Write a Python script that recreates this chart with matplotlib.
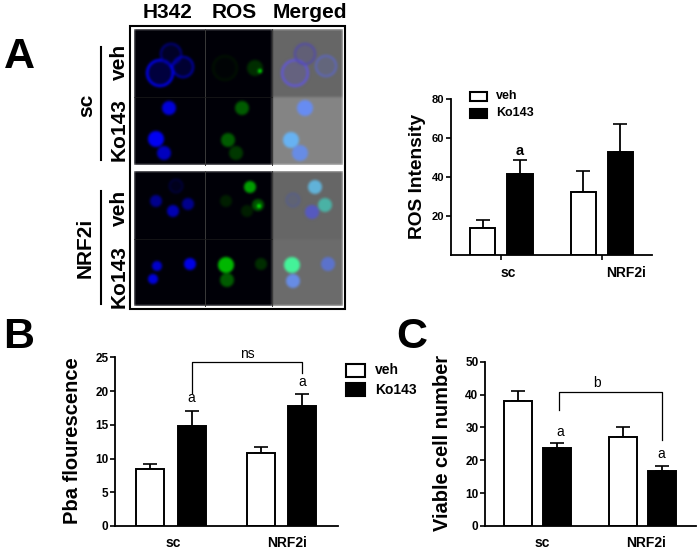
import numpy as np
import matplotlib
matplotlib.use("Agg")
import matplotlib.pyplot as plt
from matplotlib.patches import Rectangle

plt.rcParams['font.family'] = ['Liberation Sans', 'DejaVu Sans']

W, H = 700, 552
groups = ['sc', 'NRF2i']
series = ['veh', 'Ko143']

ros_values = [13.5, 41.5, 32.5, 53.0]
ros_tops = [18.0, 48.5, 43.0, 67.5]
pba_values = [8.4, 14.8, 10.8, 17.8]
pba_tops = [9.2, 17.0, 11.7, 19.6]
via_values = [38.0, 23.8, 27.0, 16.8]
via_tops = [41.0, 25.3, 30.0, 18.2]

# microscopy cells: x, y, radius, blue, green, ring
blue_cells = [
    (160, 73, 14, 1.0, 0, 1), (171, 54, 11, 0.6, 0, 1), (183, 67, 11, 0.8, 0, 1),
    (169, 108, 7, 0.85, 0, 0), (156, 139, 8, 0.95, 0, 0), (164, 153, 7, 0.75, 0, 0),
    (176, 186, 7, 0.42, 0, 1), (156, 201, 6, 0.55, 0, 0), (173, 211, 6, 0.7, 0, 0), (188, 204, 6, 0.55, 0, 0),
    (157, 266, 5, 0.8, 0, 0), (190, 264, 6, 0.9, 0, 0), (153, 279, 5, 0.85, 0, 0),
]
green_cells = [
    (225, 68, 13, 0, 0.07, 1), (255, 68, 8, 0, 0.18, 0), (260, 71, 2, 0, 0.9, 0),
    (242, 108, 7, 0, 0.36, 0), (228, 140, 7, 0, 0.36, 0), (236, 153, 7, 0, 0.22, 0),
    (250, 187, 6, 0, 0.62, 0), (226, 201, 6, 0, 0.12, 0), (247, 211, 6, 0, 0.12, 0),
    (258, 205, 6, 0, 0.32, 0), (259, 206, 2, 0, 0.95, 0),
    (226, 265, 8, 0, 0.72, 0), (261, 264, 6, 0, 0.18, 0), (227, 280, 7, 0, 0.36, 0),
]
merged_cells = [
    (295, 73, 14, 0.85, 0.12, 1), (305, 54, 11, 0.7, 0.12, 1), (326, 66, 11, 0.8, 0.4, 1),
    (305, 108, 8, 0.95, 0.55, 0), (291, 140, 8, 0.95, 0.7, 0), (300, 153, 8, 0.9, 0.55, 0),
    (315, 187, 7, 0.85, 0.7, 0), (293, 200, 7, 0.65, 0.35, 1), (312, 212, 7, 0.75, 0.35, 0), (325, 205, 7, 0.65, 0.7, 0),
    (292, 265, 8, 0.6, 0.95, 0), (328, 264, 7, 0.8, 0.45, 0), (293, 281, 7, 0.9, 0.55, 0),
]
merged_rows = [(272, 343, 29, 97, 0.40), (272, 343, 97, 165, 0.52), (272, 343, 171, 239, 0.40), (272, 343, 239, 306, 0.42)]

fig = plt.figure(figsize=(W / 100, H / 100), dpi=100, facecolor='white')

ov = fig.add_axes([0, 0, 1, 1])
ov.set_xlim(0, W)
ov.set_ylim(H, 0)
ov.axis('off')

yy, xx = np.mgrid[0:H, 0:W] + 0.5
img = np.ones((H, W, 3))
panel = np.zeros((H, W), dtype=bool)
for y0, y1 in [(29, 165), (171, 306)]:
    m = (xx > 134) & (xx < 343) & (yy > y0) & (yy < y1)
    img[m] = (0, 0, 0.03)
    panel |= m
for x0, x1, y0, y1, g in merged_rows:
    m = (xx > x0) & (xx < x1) & (yy > y0) & (yy < y1)
    img[m] = g
for cells in (blue_cells, green_cells, merged_cells):
    for x, y, r, b, gr, ring in cells:
        d = np.hypot(xx - x, yy - y)
        a = np.clip((r - d) / 1.5 + 0.5, 0, 1)
        if ring:
            a = a * (0.22 + 0.78 * np.clip((d - r * 0.78) / 1.5, 0, 1))
        if cells is merged_cells:
            col = np.array([0.45 * min(b, 0.9), max(gr, 0.4 * b), b])
        else:
            col = np.array([0.0, gr, b])
        img = img * (1 - a[..., None]) + col * a[..., None]
# soften, as a photograph would be
kernel = np.array([1, 2, 3, 2, 1]) / 9
blurred = img.copy()
for axis in (0, 1):
    blurred = np.apply_along_axis(lambda s: np.convolve(s, kernel, mode='same'), axis, blurred)
img[panel] = blurred[panel]
ov.imshow(img, extent=(0, W, H, 0), interpolation='bilinear', aspect='auto', zorder=0)
for x in (205, 272):
    ov.plot([x, x], [29, 165], color='#3a3a3a', lw=0.7, zorder=1)
    ov.plot([x, x], [171, 306], color='#3a3a3a', lw=0.7, zorder=1)
ov.plot([134, 272], [97, 97], color='#1c1c1c', lw=0.5, zorder=1)
ov.plot([134, 272], [239, 239], color='#1c1c1c', lw=0.5, zorder=1)
ov.add_patch(Rectangle((130, 26), 215, 283, fc='none', ec='black', lw=1.5, zorder=2))
ov.set_xlim(0, W)
ov.set_ylim(H, 0)

for s, x, y in [('A', 19, 52), ('B', 19, 332), ('C', 412, 332)]:
    ov.text(x, y, s, fontsize=31, fontweight='bold', ha='center', va='center_baseline')
for s, x in [('H342', 168), ('ROS', 234), ('Merged', 310)]:
    ov.text(x, 12, s, fontsize=15, fontweight='bold', ha='center', va='center')
for s, x, y in [('sc', 87, 105), ('NRF2i', 85, 248), ('veh', 119, 62), ('Ko143', 119, 130),
                ('veh', 119, 208), ('Ko143', 119, 277)]:
    ov.text(x, y, s, fontsize=15, fontweight='bold', rotation=90, ha='center', va='center')
ov.plot([101, 101], [47, 160], color='black', lw=1.5)
ov.plot([101, 101], [191, 304], color='black', lw=1.5)


def chart(values, tops, ymax, yticks, left, right, y0, ytop, c0, c1, off, bw, ylabel, ylabel_x, ylabel_y,
          ysize, tick_size, x_ticks=False, label_y=543, label_dx=(0, 0)):
    ax = fig.add_axes([left / W, 1 - y0 / H, (right - left) / W, (y0 - ytop) / H])
    ax.patch.set_alpha(0)
    sp = c1 - c0
    ax.set_xlim((left - c0) / sp, (right - c0) / sp)
    ax.set_ylim(0, ymax)
    o = off / sp
    w = bw / sp
    xs = [0 - o, 0 + o, 1 - o, 1 + o]
    cols = ['white', 'black', 'white', 'black']
    for x, v, t, c in zip(xs, values, tops, cols):
        ax.bar(x, v, width=w, facecolor=c, edgecolor='black', lw=1.4, zorder=2)
        ax.errorbar(x, v, yerr=[[0], [t - v]], color='black', capsize=5.2, capthick=1.2, elinewidth=1.3, zorder=1)
    for s in ('top', 'right'):
        ax.spines[s].set_visible(False)
    for s in ('left', 'bottom'):
        ax.spines[s].set_linewidth(1.3)
    ax.set_yticks(yticks)
    ax.set_yticklabels([str(t) for t in yticks], fontsize=tick_size, fontweight='bold')
    ax.tick_params(axis='y', length=3.5, width=1.2, pad=1.2)
    if x_ticks:
        ax.set_xticks([0, 1])
        ax.set_xticklabels([])
        ax.tick_params(axis='x', length=3.5, width=1.2)
    else:
        ax.set_xticks([])
    ov.text(ylabel_x, ylabel_y, ylabel, fontsize=ysize, fontweight='bold', rotation=90, ha='center', va='center')
    for g, cx, dx in zip(groups, (c0, c1), label_dx):
        ov.text(cx + dx, label_y, g, fontsize=10, fontweight='bold', ha='center', va='center')
    return ax, xs


def legend(x, y1, y2, tw, th, tx, size):
    ov.add_patch(Rectangle((x, y1), tw, th, fc='white', ec='black', lw=1.5, zorder=3))
    ov.add_patch(Rectangle((x, y2), tw, th, fc='black', ec='black', lw=1.5, zorder=3))
    ov.text(tx, y1 + th / 2, series[0], fontsize=size, fontweight='bold', va='center')
    ov.text(tx, y2 + th / 2, series[1], fontsize=size, fontweight='bold', va='center')


axA, xA = chart(ros_values, ros_tops, 80, [20, 40, 60, 80], 450.7, 652, 254.7, 99.3, 501.5, 601.5, 18.5, 25,
                'ROS Intensity', 417, 176, 13.8, 8, x_ticks=True, label_y=273, label_dx=(7, 25))
axA.text(xA[1], 53.5, 'a', fontsize=10.5, fontweight='bold', ha='center', va='center')
legend(470, 91.5, 108.5, 17, 9, 496, 9)

axB, xB = chart(pba_values, pba_tops, 25, [0, 5, 10, 15, 20, 25], 115, 338, 526, 357.3, 170.75, 281.5, 20.75, 28,
                'Pba flourescence', 73, 441, 14.5, 8.5, label_dx=(2.5, 5.5))
axB.plot([xB[1], xB[1], xB[3], xB[3]], [19.7, 24.3, 24.3, 22.7], color='black', lw=0.9, clip_on=False)
axB.text(0.5 * (xB[1] + xB[3]), 25.5, 'ns', fontsize=10, ha='center', va='center', clip_on=False)
axB.text(xB[1], 18.9, 'a', fontsize=10, ha='center', va='center')
axB.text(xB[3], 21.4, 'a', fontsize=10, ha='center', va='center')
legend(346, 364, 383, 19, 13, 375, 10)

axC, xC = chart(via_values, via_tops, 50, [0, 10, 20, 30, 40, 50], 485, 696, 526, 361.7, 537.5, 642, 19.5, 28,
                'Viable cell number', 442, 443, 14.4, 8.5, label_dx=(4.5, 4))
axC.plot([xC[1] + 0.02, xC[1] + 0.02, xC[3], xC[3]], [35.3, 40.8, 40.8, 26.2], color='black', lw=0.9, clip_on=False)
axC.text(0.57, 43.4, 'b', fontsize=10, ha='center', va='center')
axC.text(xC[1] + 0.03, 28.6, 'a', fontsize=10, ha='center', va='center')
axC.text(xC[3], 22.0, 'a', fontsize=10, ha='center', va='center')

fig.savefig('out.png', dpi=100)
